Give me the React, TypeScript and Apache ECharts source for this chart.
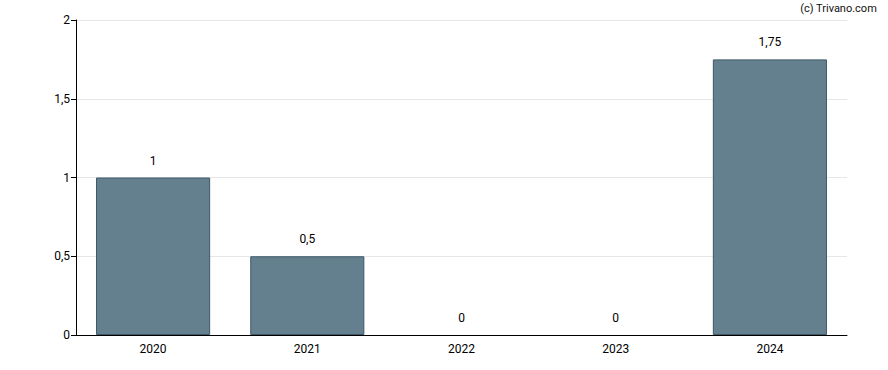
import React, { useEffect, useRef } from "react";
import * as echarts from "echarts";

const categories = ["2020", "2021", "2022", "2023", "2024"];
const values = [1, 0.5, 0, 0, 1.75];
const yTicks = [0, 0.5, 1, 1.5, 2];

const fmt = (v: number) => String(v).replace(".", ",");

export default function App() {
  const ref = useRef<HTMLDivElement>(null);
  useEffect(() => {
    document.body.style.margin = "0";
    const chart = echarts.init(ref.current!, null, { renderer: "svg" });
    chart.setOption({
      animation: false,
      textStyle: { fontFamily: "Roboto" },
      grid: { left: 76, right: 41, top: 20, bottom: 35 },
      graphic: [
        {
          type: "text",
          right: 11,
          top: 3,
          style: { text: "(c) Trivano.com", fill: "#111", fontSize: 11, fontFamily: "Roboto" },
        },
      ],
      xAxis: {
        type: "category",
        data: categories,
        axisLine: { lineStyle: { color: "#000", width: 1 } },
        axisTick: { alignWithLabel: true, length: 5, lineStyle: { color: "#000" } },
        axisLabel: { color: "#000", fontSize: 12, margin: 8 },
      },
      yAxis: {
        type: "value",
        min: yTicks[0],
        max: yTicks[yTicks.length - 1],
        interval: 0.5,
        axisLine: { show: true, lineStyle: { color: "#000", width: 1 } },
        axisTick: { show: true, length: 5, lineStyle: { color: "#000" } },
        axisLabel: { color: "#000", fontSize: 12, margin: 6, formatter: (v: number) => fmt(v) },
        splitLine: { lineStyle: { color: "#e6e6e6" } },
      },
      series: [
        {
          type: "bar",
          data: values.map((v) => ({ value: v, itemStyle: v === 0 ? { borderWidth: 0 } : undefined })),
          barWidth: "74%",
          itemStyle: { color: "#64808f", borderColor: "#3e5868", borderWidth: 1 },
          label: {
            show: true,
            position: "top",
            distance: 11,
            color: "#000",
            fontSize: 12,
            formatter: (p: any) => fmt(p.value),
          },
        },
      ],
    });
    return () => chart.dispose();
  }, []);
  return <div ref={ref} style={{ width: 888, height: 370 }} />;
}
